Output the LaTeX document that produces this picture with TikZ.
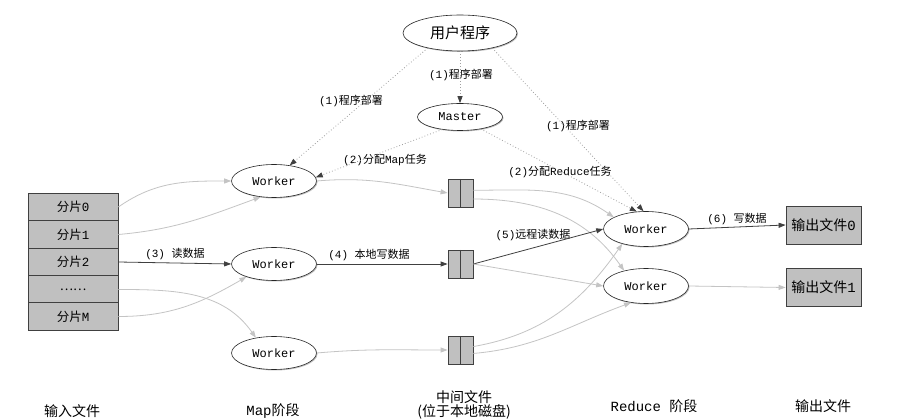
\documentclass[tikz,border=0pt]{standalone}
\usepackage{fontspec}
\setmainfont{Liberation Mono}
\newfontfamily\cjkf{Noto Sans CJK SC}
\newcommand\zh[1]{{\cjkf #1}}
\usetikzlibrary{shapes.geometric,arrows.meta,shadows}
\definecolor{dk}{HTML}{404040}
\definecolor{lt}{HTML}{C4C4C4}
\definecolor{dt}{HTML}{A0A0A0}
\definecolor{bx}{HTML}{C0C0C0}
\tikzset{
  shd/.style={drop shadow={shadow xshift=1pt,shadow yshift=-1pt,opacity=0.25,fill=black}},
  wk/.style={ellipse,draw=black!85,fill=white,line width=0.6pt,minimum width=85pt,minimum height=33pt,inner sep=0pt,font=\fontsize{12}{14}\selectfont,shd},
  shard/.style={rectangle,draw=dk,fill=bx,line width=0.8pt,minimum width=90pt,minimum height=27.5pt,inner sep=0pt,font=\fontsize{12.5}{14}\selectfont,shd},
  midbox/.style={rectangle,draw=dk,fill=bx,line width=0.8pt,minimum width=25pt,minimum height=28pt,inner sep=0pt,shd,
    path picture={\draw[dk,line width=0.8pt] (path picture bounding box.north) -- (path picture bounding box.south);}},
  outbox/.style={rectangle,draw=dk,fill=bx,line width=0.8pt,minimum width=75pt,minimum height=38pt,inner sep=0pt,font=\fontsize{14}{16}\selectfont,shd},
  lbl/.style={inner sep=1pt,font=\fontsize{11}{13}\selectfont},
  blbl/.style={inner sep=1pt,font=\fontsize{14}{13.5}\selectfont,align=center},
  lta/.style={draw=lt,line width=0.8pt,-{Triangle[length=7pt,width=5pt]}},
  dka/.style={draw=dk,line width=0.8pt,-{Triangle[length=7pt,width=5pt]}},
  dta/.style={draw=dt,line width=0.8pt,dash pattern=on 0.8pt off 2.2pt,-{Triangle[length=7pt,width=5pt,color=dk]}}
}
\begin{document}
\begin{tikzpicture}[x=1pt,y=-1pt]
\useasboundingbox[fill=white] (0,0) rectangle (902,419);
% nodes
\node[wk,minimum width=114pt,minimum height=36pt,font=\fontsize{15}{17}\selectfont] (u) at (460,33) {\zh{用户程序}};
\node[wk,minimum height=27pt] (ma) at (460,117) {Master};
\node[wk] (w1) at (274,181) {Worker};
\node[wk] (w2) at (274,264) {Worker};
\node[wk] (w3) at (274,353) {Worker};
\node[midbox] (m1) at (460.5,193) {};
\node[midbox] (m2) at (460.5,264) {};
\node[midbox] (m3) at (460.5,350) {};
\node[wk,minimum height=35pt] (r1) at (646,229) {Worker};
\node[wk,minimum height=35pt] (r2) at (646,286) {Worker};
\node[outbox] (o0) at (823.5,225) {\zh{输出文件}0};
\node[outbox] (o1) at (823.5,287.5) {\zh{输出文件}1};
\node[shard] (s0) at (73,207) {\zh{分片}0};
\node[shard] (s1) at (73,234.5) {\zh{分片}1};
\node[shard] (s2) at (73,262) {\zh{分片}2};
\node[shard] (s3) at (73,289.5) {\zh{……}};
\node[shard] (s4) at (73,316.5) {\zh{分片}M};
% bottom labels
\node[blbl] (b1) at (72,411) {\zh{输入文件}};
\node[blbl] (b2) at (273,411) {Map\zh{阶段}};
\node[blbl] (b3) at (464,405) {\zh{中间文件}\\\zh{(位于本地磁盘)}};
\node[blbl] (b4) at (654,406) {Reduce \zh{阶段}};
\node[blbl] (b5) at (823,406) {\zh{输出文件}};
% edge labels
\node[lbl] (l1a) at (351,101) {(1)\zh{程序部署}};
\node[lbl] (l1b) at (461,75) {(1)\zh{程序部署}};
\node[lbl] (l1c) at (578,126) {(1)\zh{程序部署}};
\node[lbl] (l2a) at (385,160) {(2)\zh{分配}Map\zh{任务}};
\node[lbl] (l2b) at (560,172) {(2)\zh{分配}Reduce\zh{任务}};
\node[lbl] (l3) at (175,254) {(3) \zh{读数据}};
\node[lbl] (l4) at (369,255) {(4) \zh{本地写数据}};
\node[lbl] (l5) at (533,235) {(5)\zh{远程读数据}};
\node[lbl] (l6) at (737,219) {(6) \zh{写数据}};
% dotted deployment edges
\draw[dta] (u.south) -- (ma.north);
\draw[dta] (u.205) -- (w1.45);
\draw[dta] (ma.215) -- (w1.5);
\draw[dta] (u.-25) -- (r1.98);
\draw[dta] (ma.-30) -- (r1.118);
% input -> map
\draw[lta] (s0.east) to[out=35,in=180] (w1.west);
\draw[lta] (s1.east) to[out=5,in=200] (w1.230);
\draw[dka] (s2.east) -- (w2.west);
\draw[lta] (s3.east) to[out=0,in=125] (w3.140);
\draw[lta] (s4.east) to[out=0,in=210] (w2.205);
% map -> intermediate
\draw[lta] (w1.east) to[out=5,in=170] (m1.west);
\draw[dka] (w2.east) -- (m2.west);
\draw[lta] (w3.east) to[out=5,in=180] (m3.west);
% intermediate -> reduce
\draw[lta] (m1.12) to[out=0,in=145] (r1.160);
\draw[lta] (m1.-25) to[out=0,in=125] (r2.145);
\draw[dka] (m2.east) -- (r1.west);
\draw[lta] (m2.east) -- (r2.west);
\draw[lta] (m3.15) to[out=10,in=235] (r1.212);
\draw[lta] (m3.-15) to[out=5,in=200] (r2.228);
% reduce -> output
\draw[dka] (r1.east) -- (o0.west);
\draw[lta] (r2.east) -- (o1.west);
\end{tikzpicture}
\end{document}
